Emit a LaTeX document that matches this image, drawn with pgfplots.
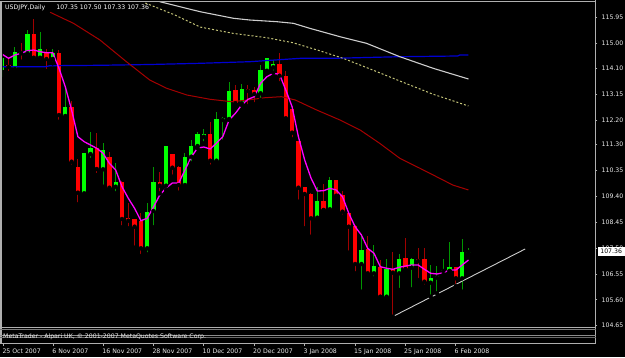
\documentclass[border=0pt]{standalone}
\usepackage{pgfplots}
\pgfplotsset{compat=1.18}
\usepackage{pgfplotstable}
\usepackage{fontspec}
\setmainfont{DejaVu Sans}

\definecolor{bull}{RGB}{0,255,0}
\definecolor{bear}{RGB}{255,0,0}
\definecolor{bullwick}{RGB}{0,150,0}
\definecolor{bearwick}{RGB}{160,0,0}
\definecolor{mag}{RGB}{255,0,255}
\definecolor{mablue}{RGB}{0,0,210}
\definecolor{mared}{RGB}{165,0,0}
\definecolor{makhaki}{RGB}{195,195,120}
\definecolor{magray}{RGB}{205,205,205}
\definecolor{frame}{RGB}{175,175,175}
\definecolor{lbl}{RGB}{235,235,235}

\pgfplotstableread{
i O H L C
0 114.031 114.655 113.775 114.472
2 114.068 114.886 114.031 114.680
4 114.644 115.498 114.519 115.341
6 114.482 115.414 114.336 114.790
8 114.435 114.790 114.277 114.644
10 112.344 113.419 112.197 112.685
13 109.508 110.997 109.446 110.975
14 110.950 111.768 110.730 111.181
16 110.388 111.342 109.750 111.096
18 109.750 110.608 109.508 109.911
23 107.490 109.141 107.270 108.833
24 108.859 110.484 108.261 109.911
26 109.787 111.243 109.629 111.243
29 109.812 110.975 109.750 110.851
30 110.851 111.463 110.608 111.243
31 111.243 111.768 111.159 111.683
32 111.584 111.856 111.342 111.683
34 110.704 112.479 110.667 112.223
35 112.197 112.318 111.401 112.270
36 112.234 113.580 112.197 113.261
38 112.810 113.518 112.747 113.323
41 113.176 114.215 112.931 114.031
42 114.005 114.460 113.969 114.460
43 114.130 114.398 113.932 114.240
50 108.613 109.728 108.554 109.237
52 108.921 110.117 108.833 109.996
57 106.914 108.015 105.898 107.428
59 106.573 107.611 106.390 106.841
61 105.715 107.087 105.693 106.720
63 106.573 107.270 105.961 107.098
65 106.779 107.146 105.986 107.098
68 106.228 106.878 105.715 106.390
69 106.412 106.841 105.840 106.474
70 106.658 107.087 106.511 106.694
71 106.658 107.732 106.658 106.793
73 106.390 107.821 105.898 107.366
74 107.350 107.500 107.330 107.360
}\bulltable

\pgfplotstableread{
i O H L C
1 114.215 114.435 113.921 114.141
3 114.702 115.022 114.336 114.644
5 115.341 115.891 114.424 114.482
7 114.644 114.790 113.994 114.435
9 114.644 114.765 112.135 112.380
11 112.685 112.905 110.484 110.667
12 110.462 110.766 109.104 109.530
15 111.181 111.709 110.179 110.399
17 110.829 111.034 109.592 109.713
19 109.911 109.970 108.261 108.565
20 108.591 109.141 108.224 108.503
21 108.554 108.554 107.512 108.283
22 108.492 108.796 107.208 107.490
25 109.911 110.300 109.508 109.787
27 110.950 110.950 110.117 110.447
28 110.484 110.509 109.530 109.812
33 111.683 112.113 110.484 110.704
37 113.297 113.481 112.784 112.810
39 113.323 113.481 112.710 113.261
40 113.297 113.419 112.773 113.151
44 114.240 114.644 113.543 113.822
45 113.811 114.005 112.223 112.259
46 112.589 112.589 111.489 111.731
47 111.427 111.427 109.200 109.713
48 109.750 109.750 108.224 109.482
49 109.482 109.508 107.916 108.591
51 109.237 109.849 108.895 108.895
53 109.996 109.996 109.299 109.420
54 109.446 109.592 108.650 108.833
55 108.796 108.833 107.329 108.283
56 108.308 108.345 106.573 106.914
58 107.454 107.942 106.511 106.573
60 106.815 107.061 105.693 105.715
62 106.720 107.366 104.981 106.595
64 107.123 107.879 106.720 106.720
66 107.087 107.490 106.327 107.024
67 107.087 107.490 106.082 106.265
72 106.793 106.793 106.107 106.390
}\beartable

\pgfplotstableread{
i v
0 114.607
1 114.460
2 114.581
3 114.644
4 114.739
5 114.765
6 114.702
7 114.666
8 114.666
9 114.093
10 113.419
11 112.564
12 111.584
13 111.401
14 111.280
15 111.159
16 110.975
17 110.608
18 110.363
19 109.750
20 109.325
21 108.958
22 108.503
23 108.591
24 109.005
25 109.446
26 109.702
27 109.886
28 109.886
29 110.363
30 110.840
31 111.170
32 111.206
33 111.133
34 111.353
35 111.584
36 112.197
37 112.443
38 112.747
39 112.956
40 113.052
41 113.543
42 113.785
43 113.910
44 113.873
45 113.297
46 112.685
47 111.584
48 110.730
49 110.069
50 109.592
51 109.603
52 109.691
53 109.629
54 109.383
55 108.774
56 108.283
57 107.978
58 107.490
59 107.307
60 106.815
61 106.757
62 106.720
63 106.793
64 106.841
65 106.878
66 106.878
67 106.720
68 106.573
69 106.548
70 106.595
71 106.694
72 106.694
73 106.878
74 107.061
}\magtable

\pgfplotstableread{
i v
0 114.152
6.8 114.152
7.6 114.189
15.5 114.204
23.4 114.233
31.4 114.277
39.3 114.336
47.3 114.460
52.5 114.460
63.1 114.519
72.3 114.545
72.6 114.581
74 114.581
}\bluetable

\pgfplotstableread{
i v
7.6 116.148
11.3 115.744
15.5 115.132
19.7 114.336
23.4 113.664
26.1 113.360
29.3 113.114
33.0 112.956
36.4 112.868
39.0 112.931
41.7 113.015
44.3 113.052
46.5 112.931
49.9 112.564
53.6 112.197
56.8 111.830
59.9 111.342
63.1 110.792
66.3 110.425
68.4 110.179
71.5 109.812
74 109.629
}\redtable

\pgfplotstableread{
i v
22.7 116.489
27.4 116.049
31.4 115.608
36.6 115.377
42.0 115.216
46.1 115.033
50.0 114.765
54.1 114.460
58.8 114.031
63.1 113.628
68.4 113.140
74 112.711
}\khakitable

\pgfplotstableread{
i v
25.0 116.537
28.2 116.353
31.4 116.170
36.7 115.928
39.3 115.865
43.6 115.803
46.2 115.744
48.8 115.561
53.6 115.253
57.8 115.011
63.1 114.519
68.4 114.093
74 113.701
}\graytable

\pgfplotstableread{
i v
62.0 104.988
83.0 107.465
}\trendtable

\newcommand{\mtfont}{\fontsize{6.2}{7}\selectfont}

\begin{document}
\begin{tikzpicture}[x=1pt,y=1pt]
\useasboundingbox (0,0) rectangle (625,357);
\fill[black] (0,0) rectangle (625,357);

\begin{axis}[
  at={(3pt,30pt)}, anchor=south west, scale only axis,
  width=592pt, height=325pt,
  xmin=0.111, xmax=94.08, ymin=104.603, ymax=116.526,
  axis line style={draw=none},
  xtick=\empty,
  ytick={104.65,105.60,106.55,107.50,108.45,109.40,110.35,111.30,112.20,113.15,114.10,115.00,115.95},
  yticklabels={104.65,105.60,106.55,107.50,108.45,109.40,110.35,111.30,112.20,113.15,114.10,115.00,115.95},
  ytick pos=right, yticklabel pos=right,
  tick align=outside, major tick length=2.5pt,
  tick style={draw=frame, line width=0.8pt},
  yticklabel style={font=\mtfont, text=lbl, anchor=west, inner sep=0pt, xshift=4pt},
  clip=true,
]
% wicks
\addplot[forget plot, only marks, mark=none,
  error bars/.cd, y dir=plus, y explicit, error mark=none,
  error bar style={draw=bullwick, line width=1pt}]
  table[x=i, y=L, y error plus expr=\thisrow{H}-\thisrow{L}] {\bulltable};
\addplot[forget plot, only marks, mark=none,
  error bars/.cd, y dir=plus, y explicit, error mark=none,
  error bar style={draw=bearwick, line width=1pt}]
  table[x=i, y=L, y error plus expr=\thisrow{H}-\thisrow{L}] {\beartable};
% bodies
\addplot[forget plot, only marks, mark=none,
  error bars/.cd, y dir=plus, y explicit, error mark=none,
  error bar style={draw=bull, line width=4.3pt}]
  table[x=i, y=O, y error plus expr=\thisrow{C}-\thisrow{O}] {\bulltable};
\addplot[forget plot, only marks, mark=none,
  error bars/.cd, y dir=plus, y explicit, error mark=none,
  error bar style={draw=bear, line width=4.3pt}]
  table[x=i, y=C, y error plus expr=\thisrow{O}-\thisrow{C}] {\beartable};
% moving averages and trendline
\addplot[mablue, line width=1.2pt, mark=none] table[x=i,y=v] {\bluetable};
\addplot[mared, line width=1pt, mark=none] table[x=i,y=v] {\redtable};
\addplot[makhaki, line width=1pt, dash pattern=on 2pt off 2pt, mark=none] table[x=i,y=v] {\khakitable};
\addplot[magray, line width=1.1pt, mark=none] table[x=i,y=v] {\graytable};
\addplot[mag, line width=1.3pt, mark=none] table[x=i,y=v] {\magtable};
\addplot[magray, line width=0.9pt, mark=none] table[x=i,y=v] {\trendtable};
\end{axis}

% date axis (collapsed sub-window)
\begin{axis}[
  at={(3pt,14pt)}, anchor=south west, scale only axis,
  width=592pt, height=16pt,
  xmin=0.111, xmax=94.08, ymin=0, ymax=1,
  axis line style={draw=none},
  ytick=\empty,
  xtick={0.159,8.095,16.03,23.97,31.94,39.95,47.97,55.98,63.92,71.94},
  xticklabels={25 Oct 2007,6 Nov 2007,16 Nov 2007,28 Nov 2007,10 Dec 2007,20 Dec 2007,3 Jan 2008,15 Jan 2008,25 Jan 2008,6 Feb 2008},
  xtick pos=bottom, tick align=outside, major tick length=3pt,
  tick style={draw=frame, line width=0.8pt},
  xticklabel style={font=\mtfont, text=lbl, anchor=north west, inner sep=0pt, xshift=-1pt, yshift=-3pt},
]
\end{axis}

% frame lines
\draw[frame, line width=1.5pt] (1.2,356) -- (1.2,13.7);
\draw[frame, line width=1pt] (0,355.5) -- (596,355.5);
\draw[frame, line width=1pt] (595.5,357) -- (595.5,13.2);
\draw[frame, line width=1pt] (0,29.5) -- (596,29.5);
\draw[frame!70!black, line width=0.7pt] (0,28) -- (596,28);
\draw[frame!80!black, line width=0.6pt] (0,21.4) -- (596,21.4);
\draw[frame!60!black, line width=0.6pt] (0,19.3) -- (596,19.3);
\draw[frame, line width=1pt] (0,13.7) -- (596,13.7);

% copyright text
\node[anchor=west, inner sep=0pt, font=\mtfont, text=lbl] at (3,20.5) {MetaTrader - Alpari UK, © 2001-2007 MetaQuotes Software Corp.};

% title
\node[anchor=west, inner sep=0pt, font=\mtfont, text=white] at (5,349.5) {USDJPY,Daily\hspace{11pt}107.35 107.50 107.33 107.36};

% current price box
\node[anchor=west, fill=white, draw=white, text=black, inner sep=0.6pt, minimum width=27pt, minimum height=8pt, font=\mtfont] at (597.5,105.6) {107.36};
\end{tikzpicture}
\end{document}
